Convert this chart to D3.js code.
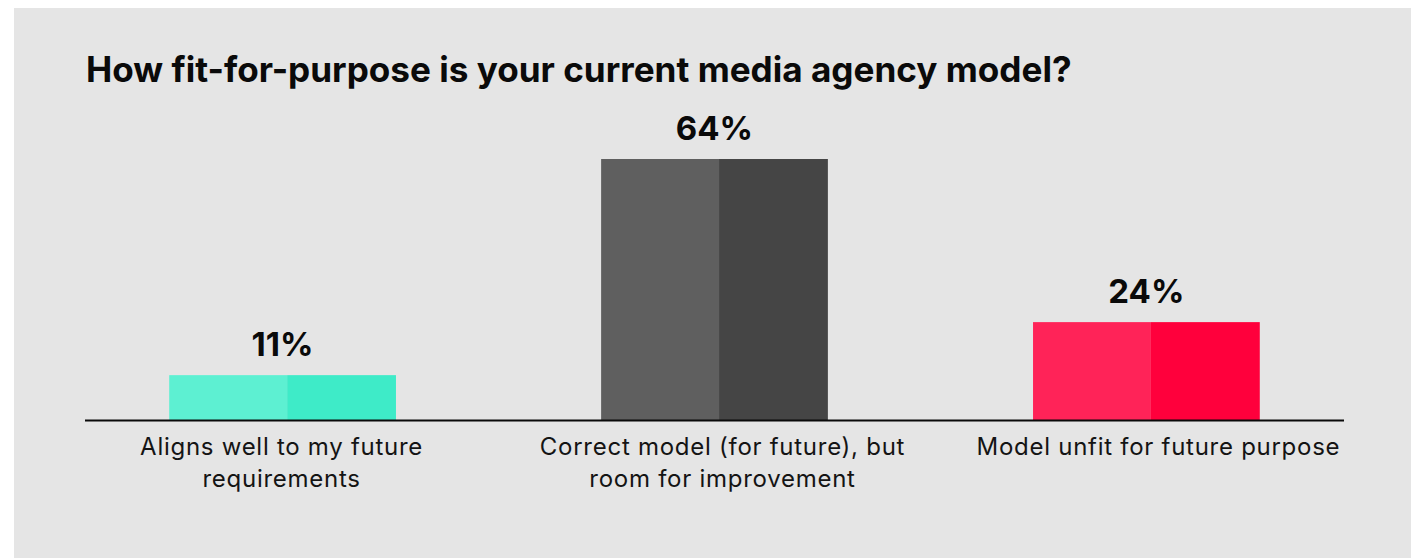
<!DOCTYPE html>
<html>
<head>
<meta charset="utf-8">
<script src="https://cdn.jsdelivr.net/npm/d3@7"></script>
<style>
  html, body { margin: 0; padding: 0; background: #ffffff; }
  svg { display: block; }
</style>
</head>
<body>
<svg id="chart" width="1411" height="558"></svg>
<script>
const title = "How fit-for-purpose is your current media agency model?";
const categories = [
  ["Aligns well to my future", "requirements"],
  ["Correct model (for future), but", "room for improvement"],
  ["Model unfit for future purpose"]
];
const values = [11, 64, 24];
const valueLabels = ["11%", "64%", "24%"];
const lightColors = ["#5df0d2", "#5f5f5f", "#ff2358"];
const darkColors = ["#3eebc8", "#454545", "#ff003c"];

const W = 1411, H = 558;
const svg = d3.select("#chart");
const FONT = "Inter, 'Noto Sans', sans-serif";
// small horizontal nudges of the category labels relative to bar centres (layout only)
const LABEL_NUDGE = [-1, 8, 12];

svg.append("rect").attr("x", 14).attr("y", 8).attr("width", W - 14).attr("height", H - 8).attr("fill", "#e5e5e5");

const x = d3.scaleBand().domain(d3.range(values.length)).range([85, 1344]).paddingInner(0.475).paddingOuter(0.195);
const y = d3.scaleLinear().domain([0, 64]).range([420, 159]);
const splitFrac = 0.52;

const t = svg.append("text").attr("x", 86).attr("y", 82)
  .attr("font-family", FONT).attr("font-weight", 700).attr("font-size", 33)
  .attr("fill", "#0a0a0a").text(title);
const tw = t.node().getComputedTextLength();
t.attr("font-size", 33 * 986 / tw);

const g = svg.append("g");
values.forEach((v, i) => {
  const x0 = x(i), bw = x.bandwidth();
  g.append("rect").attr("x", x0).attr("y", y(v)).attr("width", bw * splitFrac).attr("height", y(0) - y(v)).attr("fill", lightColors[i]);
  g.append("rect").attr("x", x0 + bw * splitFrac).attr("y", y(v)).attr("width", bw * (1 - splitFrac)).attr("height", y(0) - y(v)).attr("fill", darkColors[i]);
  g.append("text").attr("x", x0 + bw / 2).attr("y", y(v) - 19)
    .attr("text-anchor", "middle").attr("font-family", FONT).attr("font-weight", 700)
    .attr("font-size", 33).attr("fill", "#0a0a0a").text(valueLabels[i]);
});

svg.append("line").attr("x1", x.range()[0]).attr("x2", x.range()[1])
  .attr("y1", 420.5).attr("y2", 420.5).attr("stroke", "#0a0a0a").attr("stroke-width", 2.2);

const probe = svg.append("text").attr("font-family", FONT).attr("font-size", 22).text(categories[0][0]);
const pw = probe.node().getComputedTextLength();
probe.remove();
const labelSize = Math.min(24, 22 * 283 / pw);
const labelSpacing = (283 - pw * labelSize / 22) / categories[0][0].length;

const labelG = svg.append("g");
categories.forEach((lines, i) => {
  const cx = x(i) + x.bandwidth() / 2 + LABEL_NUDGE[i];
  const tx = labelG.append("text").attr("text-anchor", "middle")
    .attr("font-family", FONT).attr("font-size", labelSize)
    .attr("letter-spacing", labelSpacing).attr("fill", "#141414");
  lines.forEach((ln, j) => {
    tx.append("tspan").attr("x", cx).attr("y", 455 + j * 32).text(ln);
  });
});
</script>
</body>
</html>
